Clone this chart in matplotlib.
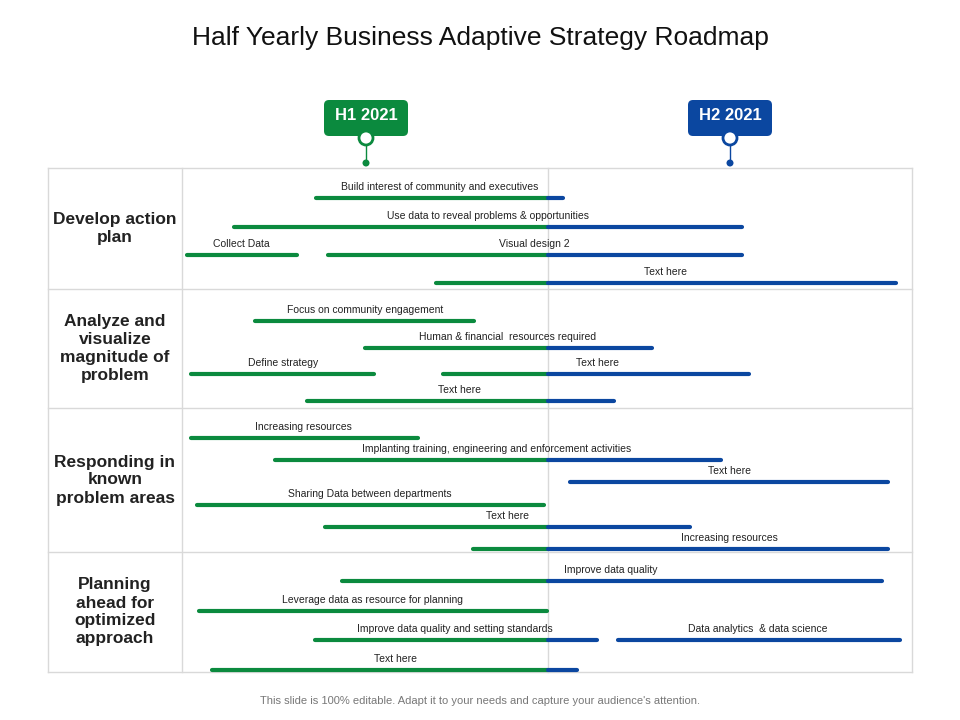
import matplotlib
matplotlib.use("Agg")
import matplotlib.pyplot as plt
from matplotlib.patches import FancyBboxPatch, Circle

plt.rcParams["font.family"] = ["Liberation Sans Narrow", "Liberation Sans", "DejaVu Sans"]

GREEN = "#0b8a3e"
BLUE = "#0b47a0"
SPLIT = 548  # H1 / H2 boundary on the time axis

# ---- data (time axis in layout units) ----
row_names = ["Develop action\nplan", "Analyze and\nvisualize\nmagnitude of\nproblem",
             "Responding in\nknown\nproblem areas", "Planning\nahead for\noptimized\napproach"]
row_edges = [168, 289, 408, 552, 672]

task_labels = [
    "Build interest of community and executives", "Use data to reveal problems & opportunities",
    "Collect Data", "Visual design 2", "Text here",
    "Focus on community engagement", "Human & financial  resources required",
    "Define strategy", "Text here", "Text here",
    "Increasing resources", "Implanting training, engineering and enforcement activities",
    "Text here", "Sharing Data between departments", "Text here", "Increasing resources",
    "Improve data quality", "Leverage data as resource for planning",
    "Improve data quality and setting standards", "Data analytics  & data science", "Text here",
]
task_y = [198, 227, 255, 255, 283,
          321, 348, 374, 374, 401,
          438, 460, 482, 505, 527, 549,
          581, 611, 640, 640, 670]
task_start = [316, 234, 187, 328, 436,
              255, 365, 191, 443, 307,
              191, 275, 570, 197, 325, 473,
              342, 199, 315, 618, 212]
task_end = [563, 742, 297, 742, 896,
            474, 652, 374, 749, 614,
            418, 721, 888, 544, 690, 888,
            882, 547, 597, 900, 577]
label_x = [440, 488, 241, 534, 666,
           365, 508, 283, 597, 460,
           303, 497, 729, 370, 508, 729,
           611, 372, 455, 758, 395]

milestones = ["H1 2021", "H2 2021"]
milestone_x = [366, 730]
milestone_color = [GREEN, BLUE]

fig = plt.figure(figsize=(9.6, 7.2), dpi=100)
ax = fig.add_axes([0, 0, 1, 1])
ax.set_xlim(0, 960)
ax.set_ylim(720, 0)
ax.axis("off")

ax.text(480, 38, "Half Yearly Business Adaptive Strategy Roadmap", ha="center", va="center",
        fontsize=19, color="#111111")

# grid
grid = "#d9d9d9"
for y in row_edges:
    ax.plot([48, 912], [y, y], color=grid, lw=1)
for x in [48, 182, 912]:
    ax.plot([x, x], [row_edges[0], row_edges[-1]], color=grid, lw=1)
ax.plot([SPLIT, SPLIT], [row_edges[0], row_edges[-1]], color=grid, lw=1)

for name, y0, y1 in zip(row_names, row_edges[:-1], row_edges[1:]):
    ax.text(115, (y0 + y1) / 2, name, ha="center", va="center", fontsize=12.5,
            fontweight="bold", color="#222222", linespacing=1.25)

# bars
for lab, y, s, e, lx in zip(task_labels, task_y, task_start, task_end, label_x):
    if s < SPLIT:
        ax.plot([s, min(e, SPLIT)], [y, y], color=GREEN, lw=3, solid_capstyle="round")
    if e > SPLIT:
        ax.plot([max(s, SPLIT), e], [y, y], color=BLUE, lw=3, solid_capstyle="round")
    ax.text(lx, y - 11, lab, ha="center", va="center", fontsize=7.5, color="#222222")

# milestones
for lab, x, c in zip(milestones, milestone_x, milestone_color):
    ax.add_patch(FancyBboxPatch((x - 42, 100), 84, 36, boxstyle="round,pad=0,rounding_size=5",
                                fc=c, ec="none", zorder=3))
    ax.text(x, 116, lab, ha="center", va="center", color="white", fontsize=12,
            fontweight="bold", zorder=4)
    ax.plot([x, x], [144, 162], color=c, lw=1, zorder=2)
    ax.add_patch(Circle((x, 138), 7, fc="white", ec=c, lw=2, zorder=5))
    ax.add_patch(Circle((x, 163), 3.5, fc=c, ec="none", zorder=5))

ax.text(480, 701, "This slide is 100% editable. Adapt it to your needs and capture your audience's attention.",
        ha="center", va="center", fontsize=8, color="#777777")

fig.savefig("out.png", dpi=100)
